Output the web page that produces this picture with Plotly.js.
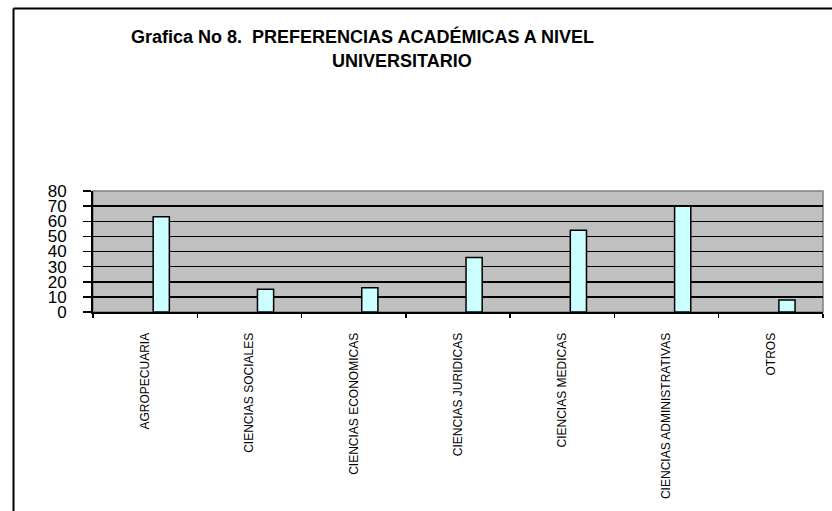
<!DOCTYPE html>
<html>
<head>
<meta charset="utf-8">
<script src="https://cdn.plot.ly/plotly-3.0.1.min.js"></script>
<style>html,body{margin:0;padding:0;background:#fff;overflow:hidden;}#chart{width:832px;height:511px;}</style>
</head>
<body>
<div id="chart"></div>
<script>
var categories = ["AGROPECUARIA", "CIENCIAS SOCIALES", "CIENCIAS ECONOMICAS", "CIENCIAS JURIDICAS", "CIENCIAS MEDICAS", "CIENCIAS ADMINISTRATIVAS", "OTROS"];
var values = [63, 15, 16, 36, 54, 70, 8];
var yTicks = [0, 10, 20, 30, 40, 50, 60, 70, 80];
var titleLine1 = "Grafica No 8.  PREFERENCIAS ACADÉMICAS A NIVEL";
var titleLine2 = "UNIVERSITARIO";

var W = 832, H = 511;
var L = 93, R = 823, T = 191, B = 312;
var pw = R - L, ph = B - T;
function px(x){ return (x - L) / pw; }
function py(y){ return (B - y) / ph; }

var trace = {
  type: 'bar',
  x: categories,
  y: values,
  width: 0.155,
  offset: 0.077,
  marker: {color: '#ccffff', line: {color: '#000000', width: 1.5}},
  hoverinfo: 'x+y'
};

var layout = {
  width: W, height: H,
  margin: {l: L, r: W - R, t: T, b: H - B, pad: 0},
  paper_bgcolor: '#ffffff',
  plot_bgcolor: '#c0c0c0',
  showlegend: false,
  font: {family: 'Arial, "Liberation Sans", sans-serif', color: '#000'},
  xaxis: {
    type: 'category',
    tickson: 'boundaries',
    ticks: 'outside', ticklen: 4, tickwidth: 1.5, tickcolor: '#000',
    showgrid: false,
    showline: true, linecolor: '#000', linewidth: 2,
    tickangle: -90,
    tickfont: {size: 12, family: 'Arial, "Liberation Sans", sans-serif'},
    ticklabelstandoff: 14,
    zeroline: false,
    fixedrange: true
  },
  yaxis: {
    range: [0, 80],
    tickmode: 'array', tickvals: yTicks, ticktext: yTicks.map(String),
    ticks: 'outside', ticklen: 8, tickwidth: 1.5, tickcolor: '#000',
    showgrid: true, gridcolor: '#000', gridwidth: 1.5,
    showline: true, linecolor: '#000', linewidth: 2,
    tickfont: {size: 17, family: 'Arial, "Liberation Sans", sans-serif'},
    ticklabelstandoff: 13,
    zeroline: false,
    fixedrange: true
  },
  shapes: [
    {type: 'rect', xref: 'paper', yref: 'paper', x0: 0, x1: 1, y0: 0, y1: 1,
     line: {color: '#808080', width: 1.5}, fillcolor: 'rgba(0,0,0,0)', layer: 'below'},
    {type: 'line', xref: 'paper', yref: 'paper', x0: px(13.5), x1: px(834), y0: py(8.5), y1: py(8.5),
     line: {color: '#000', width: 2}},
    {type: 'line', xref: 'paper', yref: 'paper', x0: px(13.5), x1: px(13.5), y0: py(8.5), y1: py(520),
     line: {color: '#000', width: 2}}
  ],
  annotations: [
    {text: '<b>' + titleLine1 + '</b>', xref: 'paper', yref: 'paper', x: px(362), y: py(36),
     xanchor: 'center', yanchor: 'middle', showarrow: false,
     font: {size: 18, family: 'Arial, "Liberation Sans", sans-serif', color: '#000'}},
    {text: '<b>' + titleLine2 + '</b>', xref: 'paper', yref: 'paper', x: px(402), y: py(61),
     xanchor: 'center', yanchor: 'middle', showarrow: false,
     font: {size: 18, family: 'Arial, "Liberation Sans", sans-serif', color: '#000'}}
  ]
};

Plotly.newPlot('chart', [trace], layout, {displayModeBar: false, staticPlot: true});
</script>
</body>
</html>
